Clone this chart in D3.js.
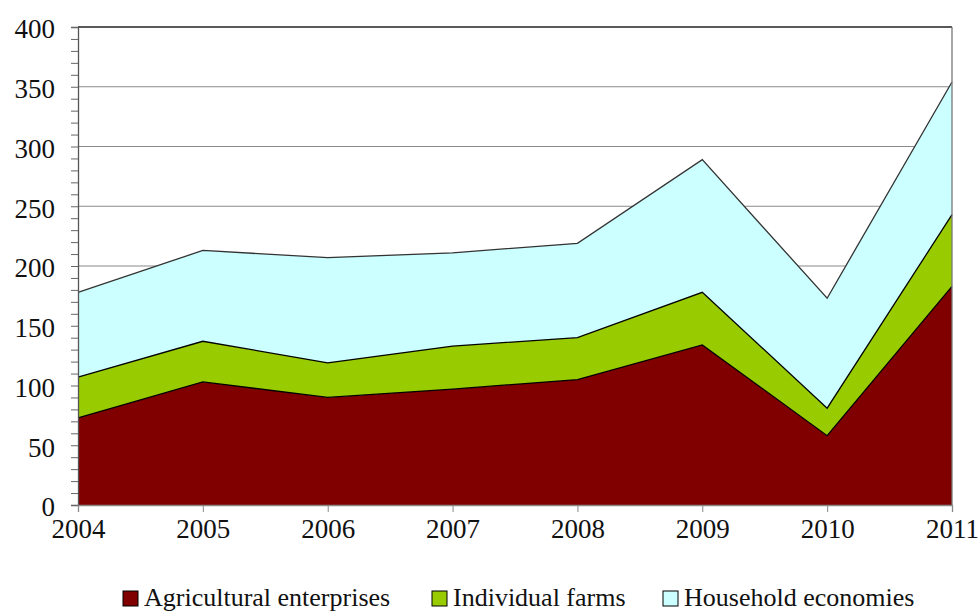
<!DOCTYPE html>
<html>
<head>
<meta charset="utf-8">
<script src="https://cdn.jsdelivr.net/npm/d3@7"></script>
<style>
  body { margin: 0; background: #fff; }
  svg text { font-family: "Liberation Serif", "DejaVu Serif", serif; }
</style>
</head>
<body>
<script>
// data
var years = [2004, 2005, 2006, 2007, 2008, 2009, 2010, 2011];
var agricultural = [73, 103, 90, 97, 105, 134, 58, 183];
var individual = [34, 34, 29, 36, 35, 44, 23, 60];
var household = [71, 76, 88, 78, 79, 111, 92, 111];
var seriesNames = ["Agricultural enterprises", "Individual farms", "Household economies"];
var seriesColors = ["#800000", "#99cc00", "#ccffff"];
var yTicks = [0, 50, 100, 150, 200, 250, 300, 350, 400];

var width = 980, height = 613;
var margin = { top: 27, right: 28, bottom: 108, left: 78 };
var serif = "Liberation Serif, DejaVu Serif, serif";

var rows = years.map(function (y, i) {
    return { year: y, a: agricultural[i], b: individual[i], c: household[i] };
});
var stacked = d3.stack().keys(["a", "b", "c"])(rows);

var xScale = d3.scaleLinear()
    .domain([years[0], years[years.length - 1]])
    .range([margin.left, width - margin.right]);

var yScale = d3.scaleLinear()
    .domain([0, 400])
    .range([height - margin.bottom, margin.top]);

var svg = d3.select("body").append("svg")
    .attr("width", width)
    .attr("height", height);

// gridlines
svg.append("g")
    .selectAll("line")
    .data(yTicks.filter(function (d) { return d > 0 && d < 400; }))
    .join("line")
    .attr("x1", margin.left).attr("x2", width - margin.right)
    .attr("y1", function (d) { return yScale(d); })
    .attr("y2", function (d) { return yScale(d); })
    .attr("stroke", "#8a8a8a")
    .attr("stroke-width", 1.2);

// stacked areas
var area = d3.area()
    .x(function (d) { return xScale(d.data.year); })
    .y0(function (d) { return yScale(d[0]); })
    .y1(function (d) { return yScale(d[1]); });

svg.append("g")
    .selectAll("path")
    .data(stacked)
    .join("path")
    .attr("d", area)
    .attr("fill", function (d, i) { return seriesColors[i]; });

var topLine = d3.line()
    .x(function (d) { return xScale(d.data.year); })
    .y(function (d) { return yScale(d[1]); });

svg.append("g")
    .selectAll("path")
    .data(stacked)
    .join("path")
    .attr("d", topLine)
    .attr("fill", "none")
    .attr("stroke", function (d, i) { return i == 2 ? "#333" : "#000"; })
    .attr("stroke-width", 1.3);

// plot frame: top and right
svg.append("line")
    .attr("x1", margin.left).attr("x2", width - margin.right)
    .attr("y1", yScale(400)).attr("y2", yScale(400))
    .attr("stroke", "#222").attr("stroke-width", 1.3);
svg.append("line")
    .attr("x1", width - margin.right).attr("x2", width - margin.right)
    .attr("y1", yScale(400)).attr("y2", yScale(0))
    .attr("stroke", "#777").attr("stroke-width", 1.3);

// y axis with minor ticks
var yAxis = svg.append("g")
    .attr("transform", "translate(" + margin.left + ",0)")
    .call(d3.axisLeft(yScale).ticks(40).tickSize(7).tickFormat(""));
yAxis.select(".domain").attr("stroke", "#555").attr("stroke-width", 1.3);
yAxis.selectAll(".tick line").attr("stroke", "#666");

svg.append("g")
    .selectAll("text")
    .data(yTicks)
    .join("text")
    .attr("x", 55)
    .attr("y", function (d) { return yScale(d); })
    .attr("dy", "0.42em")
    .attr("text-anchor", "end")
    .attr("font-family", serif)
    .attr("font-size", 27)
    .attr("fill", "#111")
    .text(function (d) { return d; });

// x axis
var xAxis = svg.append("g")
    .attr("transform", "translate(0," + yScale(0) + ")")
    .call(d3.axisBottom(xScale).tickValues(years).tickSize(7)
        .tickFormat(d3.format("d")).tickPadding(7));
xAxis.attr("font-family", serif);
xAxis.select(".domain").attr("stroke", "#888").attr("stroke-width", 1.3);
xAxis.selectAll(".tick line").attr("stroke", "#888");
xAxis.selectAll(".tick text")
    .attr("font-size", 27)
    .attr("font-family", serif)
    .attr("fill", "#111");

// legend
var legendX = [123, 432, 663];
var legend = svg.append("g")
    .selectAll("g")
    .data(seriesNames)
    .join("g")
    .attr("transform", function (d, i) { return "translate(" + legendX[i] + ",591)"; });
legend.append("rect")
    .attr("width", 15).attr("height", 15)
    .attr("fill", function (d, i) { return seriesColors[i]; })
    .attr("stroke", "#000").attr("stroke-width", 1);
legend.append("text")
    .attr("x", 21).attr("y", 15)
    .attr("font-family", serif)
    .attr("font-size", 26)
    .attr("fill", "#111")
    .text(function (d) { return d; });
</script>
</body>
</html>
